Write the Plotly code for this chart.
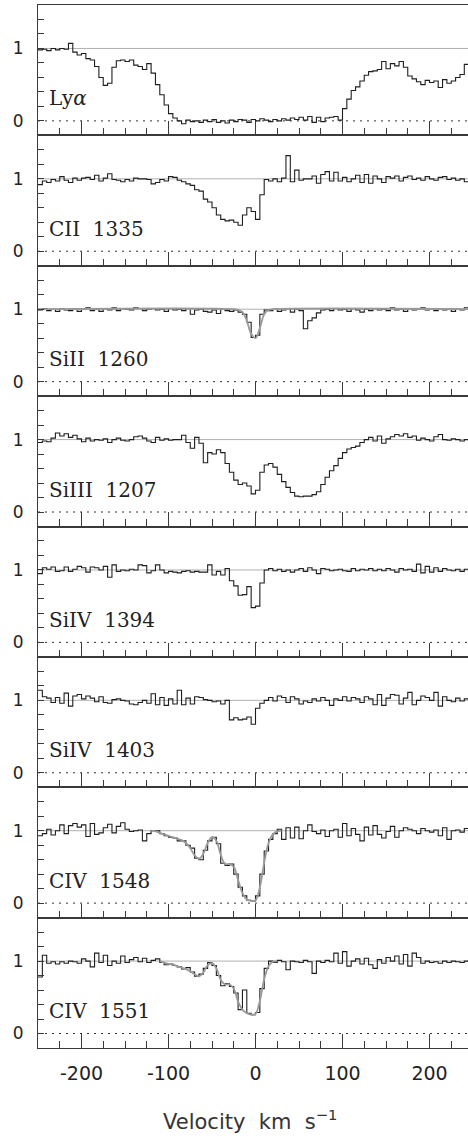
import plotly.graph_objects as go
from plotly.subplots import make_subplots

# velocity bin left edges (km/s), 5 km/s pixels
bin_left = [-250 + 5 * i for i in range(100)]
x_tick_vals = [-200, -100, 0, 100, 200]
x_tick_text = ["-200", "-100", "0", "100", "200"]

lya = [0.98, 0.99, 0.97, 1.00, 0.98, 1.00, 0.99, 1.07, 0.95, 0.91,
       0.93, 0.86, 0.84, 0.75, 0.60, 0.49, 0.52, 0.74, 0.83, 0.84,
       0.82, 0.84, 0.77, 0.75, 0.71, 0.79, 0.66, 0.50, 0.36, 0.22,
       0.10, 0.04, 0.00, -0.04, 0.01, -0.01, 0.00, -0.02, 0.01, -0.01,
       0.02, -0.02, 0.00, -0.03, 0.01, -0.01, 0.02, 0.01, -0.02, 0.02,
       0.00, 0.03, 0.01, -0.01, 0.02, 0.00, 0.03, 0.01, 0.04, 0.02,
       0.05, 0.01, 0.06, -0.02, 0.05, -0.01, 0.04, 0.05, 0.06, 0.01,
       0.17, 0.30, 0.42, 0.47, 0.55, 0.63, 0.68, 0.69, 0.71, 0.82,
       0.72, 0.79, 0.76, 0.82, 0.74, 0.62, 0.58, 0.54, 0.50, 0.56,
       0.53, 0.55, 0.46, 0.57, 0.52, 0.55, 0.60, 0.64, 0.78, 0.80]

cii_1335 = [0.92, 0.97, 0.95, 0.99, 0.97, 1.03, 0.98, 0.95, 1.01, 0.98,
            1.01, 1.02, 0.99, 1.05, 0.97, 1.01, 1.07, 0.99, 0.98, 0.96,
            0.99, 0.97, 1.01, 1.00, 1.00, 0.99, 0.93, 0.95, 0.99, 0.97,
            1.03, 1.02, 0.98, 0.96, 0.93, 0.91, 0.85, 0.83, 0.72, 0.68,
            0.60, 0.50, 0.44, 0.42, 0.43, 0.40, 0.36, 0.50, 0.60, 0.55,
            0.44, 0.78, 0.99, 0.97, 1.00, 0.96, 1.01, 1.32, 0.96, 1.12,
            0.98, 1.00, 1.00, 1.04, 0.94, 1.06, 1.10, 0.97, 1.09, 0.97,
            1.02, 0.96, 1.00, 1.05, 0.95, 1.06, 0.94, 1.04, 1.00, 0.95,
            1.03, 1.01, 1.04, 0.97, 1.02, 1.04, 0.99, 1.01, 0.98, 1.03,
            1.00, 0.98, 1.02, 1.03, 0.99, 1.01, 0.98, 1.00, 0.96, 1.00]

siii_1260 = [0.99, 1.01, 0.98, 1.00, 0.97, 1.01, 0.99, 0.98, 1.01, 0.97,
             1.00, 1.02, 0.98, 1.00, 0.97, 1.01, 0.99, 1.02, 0.98, 1.01,
             1.00, 0.99, 1.02, 1.01, 0.98, 1.00, 1.01, 0.99, 1.00, 0.97,
             1.01, 0.99, 1.00, 0.98, 1.01, 0.93, 0.99, 1.00, 0.97, 0.96,
             0.99, 0.94, 1.00, 0.98, 0.97, 0.99, 0.96, 0.93, 0.82, 0.61,
             0.64, 0.93, 0.99, 0.98, 1.00, 0.97, 0.99, 1.01, 0.96, 1.00,
             0.98, 0.73, 0.84, 0.88, 0.95, 0.99, 1.00, 0.98, 1.01, 0.99,
             1.00, 0.97, 1.01, 0.99, 0.96, 1.00, 0.98, 1.01, 0.99, 1.00,
             0.98, 1.02, 0.99, 1.00, 0.97, 1.01, 0.99, 1.00, 1.02, 0.99,
             1.01, 0.98, 1.00, 0.99, 1.01, 0.97, 1.00, 0.99, 1.02, 0.98]

siiii_1207 = [0.96, 0.98, 0.97, 1.02, 1.09, 1.05, 1.08, 1.03, 1.06, 1.01,
              0.97, 1.02, 0.98, 1.00, 0.99, 1.01, 0.96, 1.00, 1.02, 0.99,
              0.98, 1.00, 1.04, 1.05, 1.02, 0.98, 0.96, 1.03, 0.99, 1.01,
              0.99, 1.00, 1.00, 1.06, 0.96, 0.88, 1.03, 0.95, 0.68, 0.82,
              0.80, 0.86, 0.82, 0.67, 0.55, 0.44, 0.38, 0.40, 0.36, 0.25,
              0.30, 0.55, 0.65, 0.67, 0.62, 0.52, 0.42, 0.34, 0.27, 0.22,
              0.21, 0.22, 0.22, 0.24, 0.28, 0.38, 0.48, 0.57, 0.64, 0.74,
              0.82, 0.87, 0.89, 0.91, 0.96, 1.00, 1.03, 0.98, 1.05, 0.95,
              1.01, 1.04, 1.07, 1.05, 1.08, 1.03, 1.05, 0.99, 1.02, 1.00,
              0.98, 1.04, 1.07, 1.00, 0.99, 1.01, 1.00, 0.98, 1.00, 1.00]

siiv_1394 = [0.95, 1.03, 1.01, 1.04, 0.98, 0.99, 1.04, 0.98, 1.01, 1.05,
             1.03, 0.97, 1.04, 1.03, 1.00, 1.05, 0.90, 1.07, 0.98, 1.00,
             0.99, 1.01, 1.00, 1.07, 1.06, 0.96, 0.99, 1.07, 1.00, 0.96,
             0.98, 0.97, 0.96, 0.98, 0.99, 0.97, 0.98, 0.97, 0.97, 1.07,
             0.93, 0.98, 0.93, 1.02, 0.85, 0.78, 0.65, 0.66, 0.77, 0.48,
             0.50, 0.82, 1.00, 1.02, 0.99, 1.01, 0.98, 1.00, 0.97, 1.00,
             1.02, 0.98, 1.03, 1.00, 0.95, 1.02, 1.01, 0.99, 1.00, 1.01,
             0.99, 0.98, 1.02, 0.99, 1.01, 1.00, 1.02, 0.99, 1.01, 0.99,
             1.02, 1.00, 0.97, 1.02, 1.00, 1.01, 0.98, 1.08, 0.96, 1.05,
             0.97, 1.03, 0.98, 1.02, 1.00, 0.99, 1.01, 0.98, 1.01, 1.00]

siiv_1403 = [1.14, 1.05, 1.03, 0.97, 1.04, 0.96, 1.10, 0.92, 1.06, 1.08,
             1.02, 1.06, 1.03, 0.98, 1.05, 0.97, 0.96, 1.01, 1.02, 1.00,
             0.99, 0.95, 0.94, 0.97, 1.00, 0.96, 1.09, 0.94, 1.04, 0.93,
             1.02, 0.95, 1.14, 0.94, 1.03, 0.95, 1.05, 1.04, 1.01, 1.00,
             0.98, 0.99, 0.95, 1.00, 0.73, 0.76, 0.73, 0.74, 0.77, 0.67,
             0.89, 0.96, 1.00, 1.04, 0.99, 1.06, 1.04, 0.97, 1.05, 1.02,
             0.95, 0.99, 0.97, 1.02, 0.99, 1.04, 1.00, 0.93, 1.02, 1.00,
             1.05, 0.99, 1.04, 1.02, 0.97, 1.05, 1.02, 0.94, 1.08, 0.93,
             1.03, 1.08, 1.07, 0.95, 1.03, 1.11, 0.94, 1.00, 1.06, 1.04,
             1.00, 1.11, 0.92, 1.05, 1.00, 0.98, 1.03, 0.99, 1.02, 1.01]

civ_1548 = [0.93, 0.96, 1.02, 0.94, 1.00, 1.08, 0.96, 1.07, 1.10, 1.05,
            1.08, 0.92, 1.10, 0.95, 0.97, 1.04, 1.09, 0.97, 1.06, 1.11,
            1.02, 0.99, 1.00, 1.01, 0.86, 0.96, 1.00, 1.00, 0.96, 0.93,
            0.91, 0.90, 0.86, 0.86, 0.80, 0.76, 0.62, 0.60, 0.73, 0.86,
            0.91, 0.82, 0.55, 0.52, 0.54, 0.40, 0.22, 0.10, 0.04, 0.03,
            0.10, 0.40, 0.72, 0.88, 0.96, 1.02, 0.88, 1.04, 0.90, 1.05,
            0.89, 1.00, 1.08, 0.99, 0.96, 1.01, 0.92, 1.00, 1.02, 0.91,
            1.10, 0.93, 1.03, 0.95, 0.86, 1.05, 0.94, 1.07, 0.95, 0.90,
            0.99, 1.06, 0.91, 1.00, 1.04, 1.02, 1.00, 0.96, 1.03, 1.00,
            0.98, 1.01, 0.93, 1.04, 0.88, 1.00, 1.01, 0.98, 1.03, 0.97]

civ_1551 = [0.78, 1.08, 0.97, 0.99, 0.96, 0.99, 0.97, 1.00, 0.99, 0.97,
            1.03, 1.00, 0.92, 1.11, 0.98, 1.08, 0.94, 1.00, 0.97, 1.07,
            0.98, 1.02, 1.05, 0.99, 1.04, 0.98, 1.01, 1.03, 0.98, 0.95,
            0.96, 0.94, 0.92, 0.89, 0.91, 0.85, 0.79, 0.82, 0.90, 0.98,
            0.94, 0.80, 0.66, 0.69, 0.65, 0.56, 0.33, 0.60, 0.28, 0.26,
            0.29, 0.62, 0.90, 1.00, 0.98, 1.01, 0.99, 0.88, 1.00, 0.99,
            0.98, 1.01, 0.99, 0.83, 1.00, 0.98, 1.01, 0.99, 1.11, 0.97,
            1.13, 0.93, 1.00, 1.03, 0.96, 1.04, 0.95, 0.90, 1.02, 0.97,
            1.05, 1.00, 1.07, 0.96, 1.09, 0.93, 1.11, 1.05, 0.97, 1.00,
            0.98, 0.99, 0.97, 1.00, 0.98, 1.00, 0.99, 0.98, 1.00, 0.99]

# Voigt-profile fits (grey curves)
fit_siii_v = [-250, -25, -20, -15, -10, -5, 0, 5, 10, 15, 20, 250]
fit_siii_f = [1.00, 1.00, 0.99, 0.96, 0.84, 0.66, 0.60, 0.74, 0.93, 0.99, 1.00, 1.00]

fit_1548_v = [-120, -115, -110, -105, -100, -95, -90, -85, -80, -75, -70, -65, -60, -55, -50,
              -45, -40, -35, -30, -25, -20, -15, -10, -5, 0, 5, 10, 15, 20, 25, 30]
fit_1548_f = [1.00, 0.99, 0.97, 0.95, 0.93, 0.91, 0.89, 0.87, 0.83, 0.76, 0.66, 0.61, 0.68, 0.83, 0.91,
              0.86, 0.67, 0.54, 0.54, 0.50, 0.32, 0.14, 0.05, 0.03, 0.04, 0.22, 0.56, 0.83, 0.95, 0.99, 1.00]

fit_1551_v = [-110, -105, -100, -95, -90, -85, -80, -75, -70, -65, -60, -55, -50, -45,
              -40, -35, -30, -25, -20, -15, -10, -5, 0, 5, 10, 15, 20, 25]
fit_1551_f = [1.00, 0.98, 0.96, 0.95, 0.93, 0.91, 0.89, 0.86, 0.82, 0.79, 0.84, 0.94, 0.97, 0.90,
              0.74, 0.68, 0.68, 0.62, 0.44, 0.33, 0.28, 0.26, 0.27, 0.45, 0.75, 0.93, 0.99, 1.00]

labels = ["Ly<i>α</i>", "CII\u00a0\u00a01335", "SiII\u00a0\u00a01260", "SiIII\u00a0\u00a01207",
          "SiIV\u00a0\u00a01394", "SiIV\u00a0\u00a01403", "CIV\u00a0\u00a01548", "CIV\u00a0\u00a01551"]
spectra = [lya, cii_1335, siii_1260, siiii_1207, siiv_1394, siiv_1403, civ_1548, civ_1551]
fits = [None, None, (fit_siii_v, fit_siii_f), None, None, None,
        (fit_1548_v, fit_1548_f), (fit_1551_v, fit_1551_f)]

for s in spectra:
    assert len(s) == 100, len(s)

AX = "#3a3a3a"
n = len(spectra)
fig = make_subplots(rows=n, cols=1, vertical_spacing=0)

for r, (lab, flux, fit) in enumerate(zip(labels, spectra, fits), start=1):
    fig.add_trace(go.Scatter(x=[-250, 250], y=[1, 1], mode="lines",
                             line=dict(color="#b0b0b0", width=1),
                             hoverinfo="skip", showlegend=False), row=r, col=1)
    fig.add_trace(go.Scatter(x=[-250, 250], y=[0, 0], mode="lines",
                             line=dict(color="#333333", width=1, dash="2px,5px"),
                             hoverinfo="skip", showlegend=False), row=r, col=1)
    fig.add_trace(go.Scatter(x=bin_left + [250], y=flux + [flux[-1]], mode="lines",
                             line=dict(color="#1e1e1e", width=1.1, shape="hv"),
                             showlegend=False), row=r, col=1)
    if fit is not None:
        fig.add_trace(go.Scatter(x=fit[0], y=fit[1], mode="lines",
                                 line=dict(color="#9a9a9a", width=1.8, shape="spline"),
                                 showlegend=False), row=r, col=1)
    fig.add_annotation(x=-240, y=0.31, text=lab, showarrow=False, xanchor="left",
                       yanchor="middle", font=dict(family="DejaVu Serif", size=20, color="#222222"),
                       row=r, col=1)
    fig.update_xaxes(row=r, col=1, range=[-250, 244.25], tickmode="array",
                     tickvals=x_tick_vals, ticktext=x_tick_text,
                     ticks="inside", ticklen=14, tickwidth=1, tickcolor=AX,
                     minor=dict(ticks="inside", tickmode="linear", tick0=0, dtick=25,
                                ticklen=7, tickwidth=1, tickcolor=AX),
                     showticklabels=(r == n), showline=True, linecolor=AX, linewidth=1.2,
                     mirror=True, showgrid=False, zeroline=False,
                     tickfont=dict(family="DejaVu Sans", size=19, color="#222222"),
                     ticklabelstandoff=8)
    fig.update_yaxes(row=r, col=1, range=[-0.2, 1.6], tickmode="linear", tick0=0, dtick=1,
                     ticks="inside", ticklen=6, tickwidth=1, tickcolor=AX,
                     minor=dict(ticks="inside", tickmode="linear", tick0=0, dtick=0.2,
                                ticklen=6, tickwidth=1, tickcolor=AX),
                     showline=True, linecolor=AX, linewidth=1.2, mirror=False,
                     showgrid=False, zeroline=False,
                     tickfont=dict(family="DejaVu Sans", size=17, color="#222222"),
                     ticklabelstandoff=10)

fig.add_annotation(x=0.493, y=-0.069, xref="paper", yref="paper",
                   text="Velocity\u00a0\u00a0km\u00a0\u00a0s<sup>−1</sup>", showarrow=False,
                   xanchor="center", yanchor="middle",
                   font=dict(family="DejaVu Sans", size=21, color="#333333"))

fig.update_layout(width=468, height=1139, margin=dict(l=38, r=0, t=5, b=91),
                  paper_bgcolor="white", plot_bgcolor="white", showlegend=False)

fig.write_html("out.html")
